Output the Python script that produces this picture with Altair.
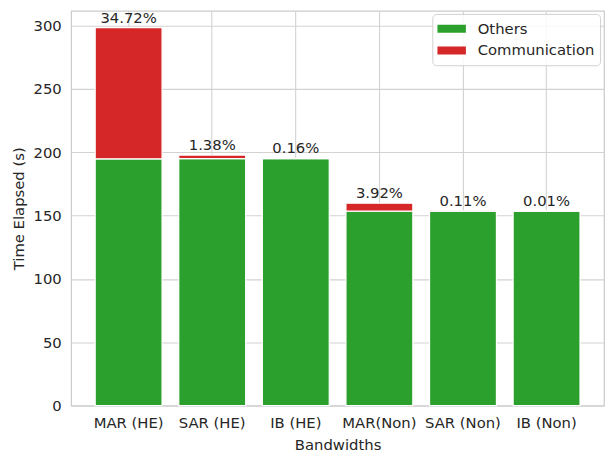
import altair as alt
import pandas as pd

categories = ["MAR (HE)", "SAR (HE)", "IB (HE)", "MAR(Non)", "SAR (Non)", "IB (Non)"]
others = [194.8, 195.0, 194.9, 153.5, 153.6, 153.5]
communication = [103.6, 2.73, 0.31, 6.26, 0.17, 0.02]
pct_labels = ["34.72%", "1.38%", "0.16%", "3.92%", "0.11%", "0.01%"]
parts = ["Others", "Communication"]
colors = ["#2ca02c", "#d62728"]
y_ticks = [0, 50, 100, 150, 200, 250, 300]

rows = []
for c, o, m in zip(categories, others, communication):
    rows.append({"Bandwidth": c, "Part": "Others", "Time": o, "ord": 0})
    rows.append({"Bandwidth": c, "Part": "Communication", "Time": m, "ord": 1})
df = pd.DataFrame(rows)
tot = pd.DataFrame({
    "Bandwidth": categories,
    "Total": [o + m for o, m in zip(others, communication)],
    "Label": pct_labels,
})

FONT = "DejaVu Sans"
TXT = "#262626"

x_enc = alt.X(
    "Bandwidth:N", sort=categories, title="Bandwidths",
    scale=alt.Scale(paddingInner=0.2, paddingOuter=0.2875),
    axis=alt.Axis(labelAngle=0, grid=True, bandPosition=0.5, ticks=False, tickSize=0,
                  domain=False, labelPadding=10, titlePadding=7),
)
y_scale = alt.Scale(domain=[0, 311.5], nice=False, zero=True)

bars = alt.Chart(df).mark_bar(stroke="white", strokeWidth=1.2).encode(
    x=x_enc,
    y=alt.Y("Time:Q", stack="zero", scale=y_scale, title="Time Elapsed (s)",
            axis=alt.Axis(values=y_ticks, ticks=False, tickSize=0, domain=False,
                          labelPadding=10, titlePadding=7)),
    color=alt.Color("Part:N", scale=alt.Scale(domain=parts, range=colors),
                    legend=alt.Legend(
                        title=None, orient="none", legendX=366, legendY=3,
                        symbolType="M-1,-0.28H1V0.28H-1Z", symbolSize=841,
                        symbolStrokeWidth=0, symbolOpacity=1,
                        labelFont=FONT, labelFontSize=15, labelColor=TXT,
                        labelOffset=12, fillColor="rgba(255,255,255,0.85)",
                        strokeColor="#d0d0d0", cornerRadius=4, padding=5,
                        rowPadding=2, clipHeight=20)),
    order=alt.Order("ord:Q"),
)

text = alt.Chart(tot).mark_text(
    baseline="alphabetic", dy=-5, fontSize=15, color=TXT, font=FONT
).encode(
    x=alt.X("Bandwidth:N", sort=categories),
    y=alt.Y("Total:Q", scale=y_scale),
    text="Label:N",
)

chart = (bars + text).properties(
    width=540, height=400,
    padding={"left": 64, "top": 0, "right": 3, "bottom": 48},
    autosize=alt.AutoSizeParams(type="none"),
).configure_view(
    stroke="#cccccc", strokeWidth=1.25
).configure_axis(
    gridColor="#d2d2d2", gridWidth=1.1,
    labelFont=FONT, labelFontSize=15, labelColor=TXT,
    titleFont=FONT, titleFontSize=15, titleColor=TXT, titleFontWeight="normal",
)

chart.save("out.html", embed_options={"renderer": "svg", "actions": False})
